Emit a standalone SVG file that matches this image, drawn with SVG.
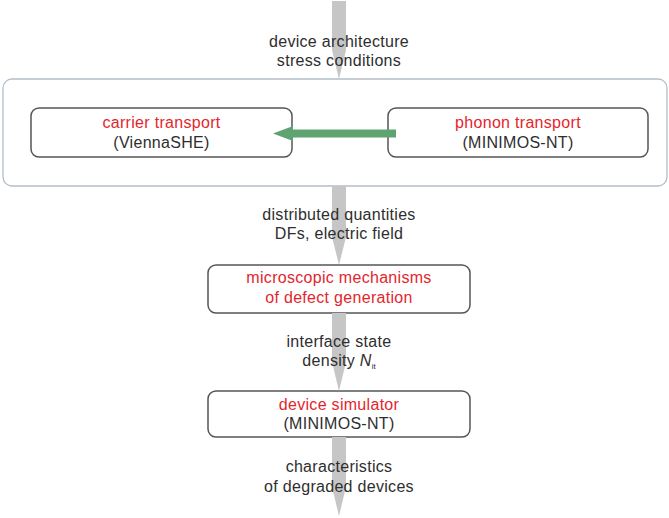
<svg xmlns="http://www.w3.org/2000/svg" width="669" height="518" viewBox="0 0 669 518">
<style>
  text { font-family: "Liberation Sans", Arial, sans-serif; font-size: 16px; letter-spacing: 0.3px; text-anchor: middle; fill: #2e2e2e; }
  .red { fill: #e3262d; }
  .node { fill: #ffffff; stroke: #555555; stroke-width: 1.5; }
  .outer { fill: #ffffff; stroke: #b3bfca; stroke-width: 1.3; }
  .flow { fill: #c6c6c6; }
  .green { fill: #5fa373; }
</style>
<rect width="669" height="518" fill="#ffffff"/>
<g id="group-box">
  <rect class="outer" x="3" y="79" width="664" height="107" rx="9"/>
</g>
<g id="node-carrier">
  <rect class="node" x="31" y="108" width="261" height="49" rx="8"/>
  <text class="red" x="161.5" y="128">carrier transport</text>
  <text x="161.5" y="148">(ViennaSHE)</text>
</g>
<g id="node-phonon">
  <rect class="node" x="388" y="108" width="260" height="49" rx="8"/>
  <text class="red" x="518" y="128">phonon transport</text>
  <text x="518" y="148">(MINIMOS-NT)</text>
</g>
<g id="node-microscopic">
  <rect class="node" x="208" y="265" width="262" height="48" rx="8"/>
  <text class="red" x="339" y="283">microscopic mechanisms</text>
  <text class="red" x="339" y="303">of defect generation</text>
</g>
<g id="node-device">
  <rect class="node" x="208" y="391" width="262" height="46" rx="8"/>
  <text class="red" x="339" y="410">device simulator</text>
  <text x="339" y="429">(MINIMOS-NT)</text>
</g>
<g id="connectors">
  <polygon class="flow" points="332,1 346,1 346,50 339,79 332,50"/>
  <polygon class="flow" points="332,186 346,186 346,237 339,265 332,237"/>
  <polygon class="flow" points="332,313 346,313 346,362 339,391 332,362"/>
  <polygon class="flow" points="332,437 346,437 346,487 339,516 332,487"/>
  <polygon class="green" points="273,133.5 293,126 293,129.5 396,129.5 396,137.5 293,137.5 293,141"/>
</g>
<g id="label-input">
  <text x="339" y="47">device architecture</text>
  <text x="339" y="66">stress conditions</text>
</g>
<g id="label-distributed">
  <text x="339" y="220">distributed quantities</text>
  <text x="339" y="239">DFs, electric field</text>
</g>
<g id="label-interface">
  <text x="339" y="347">interface state</text>
  <text x="339" y="366">density <tspan font-style="italic">N</tspan><tspan font-size="8" dy="3" letter-spacing="0">it</tspan></text>
</g>
<g id="label-output">
  <text x="339" y="472">characteristics</text>
  <text x="339" y="492">of degraded devices</text>
</g>
</svg>
